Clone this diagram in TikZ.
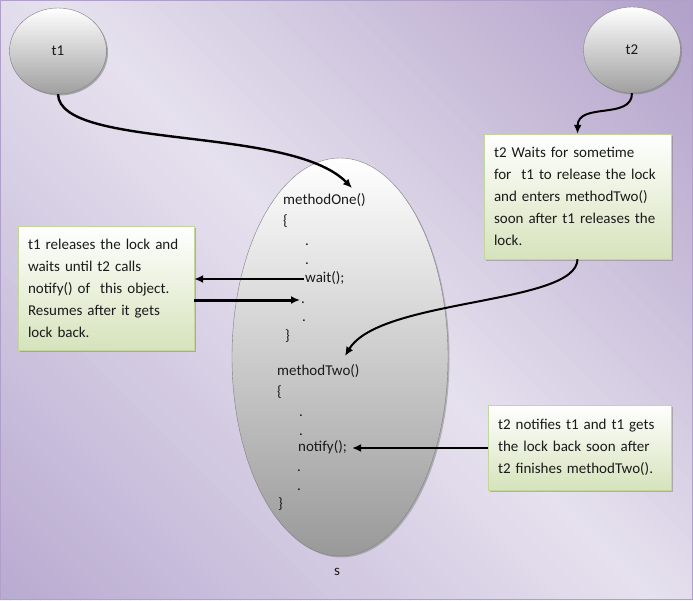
\documentclass[tikz,border=0pt]{standalone}
\usepackage{fontspec}
\setmainfont{Carlito}
\usetikzlibrary{arrows.meta,shadows,shapes.geometric}
\definecolor{bgdark}{HTML}{B09FC8}
\definecolor{bglow}{HTML}{B9ABD1}
\definecolor{bglight}{HTML}{E6E1EE}
\definecolor{notegreen}{HTML}{D6E3BC}
\definecolor{noteedge}{HTML}{C3D69B}
\definecolor{ink}{HTML}{1A1A1A}
\begin{document}
\begin{tikzpicture}[x = 1pt, y = -1pt,
        >={Latex[length=9pt,width=8pt]},
        every node/.style={text=ink, font=\fontsize{15}{22}\selectfont},
        thread/.style={ellipse, draw=gray, top color=white, bottom color=gray!75,
            minimum width=97pt, minimum height=86pt,
            drop shadow={shadow xshift=1.5pt, shadow yshift=-1.5pt, fill=gray, opacity=.6}},
        note/.style={draw=noteedge, top color=white, bottom color=notegreen,
            align=left, inner xsep=10pt, inner ysep=0pt,
            drop shadow={shadow xshift=1.5pt, shadow yshift=-1.5pt, fill=gray, opacity=.5}},
        code/.style={anchor=west, inner sep=1pt, text height=10pt, text depth=3pt},
        flow/.style={->, line width=2pt}
]
    % backdrop: diagonal bands, purple in two corners, light across the middle
    \begin{scope}
        \clip (0,0) rectangle (693,600);
        \foreach \c in {0,10,...,1290}{
            \pgfmathtruncatemacro{\p}{\c<646 ? \c/6.46 : (\c-646)/6.47}
            \ifnum\c<646 \colorlet{band}{bglight!\p!bglow}\else\colorlet{band}{bgdark!\p!bglight}\fi
            \fill[band] (\c,600) -- (\c-600,0) -- (\c-589,0) -- (\c+11,600) -- cycle;
        }
    \end{scope}
    \draw[bgdark, line width=1pt] (0.5,0.5) rectangle (692.5,599.5);

    \node[thread] (t1) at (58,51) {t1};
    \node[thread] (t2) at (632,50) {t2};

    \node[ellipse, draw=gray, top color=white, bottom color=gray!80,
        minimum width=216pt, minimum height=398pt,
        drop shadow={shadow xshift=1.5pt, shadow yshift=-1.5pt, fill=gray, opacity=.5}] (s) at (340,357) {};
    \node (slabel) at (337,572) {s};

    \foreach \n/\x/\y/\t in {m1/282/201/methodOne(), b1/282/222/\{, d1/304/242/., d2/304/261/.,
            wait/304/279/wait();, d3/300/300/., d4/301/318/., e1/284/337/\},
            m2/276/372/methodTwo(), b2/276/393/\{, d5/298/413/., d6/298/432/.,
            notify/297/448/notify();, d7/296/468/., d8/296/487/., e2/277/505/\}}
        \node[code] (\n) at (\x,\y) {\t};

    \node[note, text width=156pt, minimum height=124pt] (lbox) at (106,288)
        {t1 releases the lock and\\ waits until t2 calls\\ notify() of~ this object.\\ Resumes after it gets\\ lock back.};
    \node[note, text width=167pt, minimum height=125pt] (rbox) at (577.5,196.5)
        {t2 Waits for sometime\\ for~ t1 to release the lock\\ and enters methodTwo()\\ soon after t1 releases the\\ lock.};
    \node[note, text width=163pt, minimum height=85pt] (nbox) at (579.5,447.5)
        {t2 notifies t1 and t1 gets\\ the lock back soon after\\ t2 finishes methodTwo().};

    \coordinate (oneIn) at (352,188);
    \coordinate (twoIn) at (345,356);

    \draw[flow, line width=2.4pt] (t1.south) .. controls (60,150) and (290,125) .. (oneIn);
    \draw[flow] (t2.south) .. controls (632,120) and (578,102) .. (rbox.north);
    \draw[flow] (rbox.south) .. controls (577,305) and (380,298) .. (twoIn);
    \draw[flow] (wait.west) -- (wait.west -| lbox.east);
    \draw[flow, line width=3pt] (d3.west -| lbox.east) -- (d3.west);
    \draw[flow, line width=2.4pt, shorten >=4pt] (notify.east -| nbox.west) -- (notify.east);
\end{tikzpicture}
\end{document}
